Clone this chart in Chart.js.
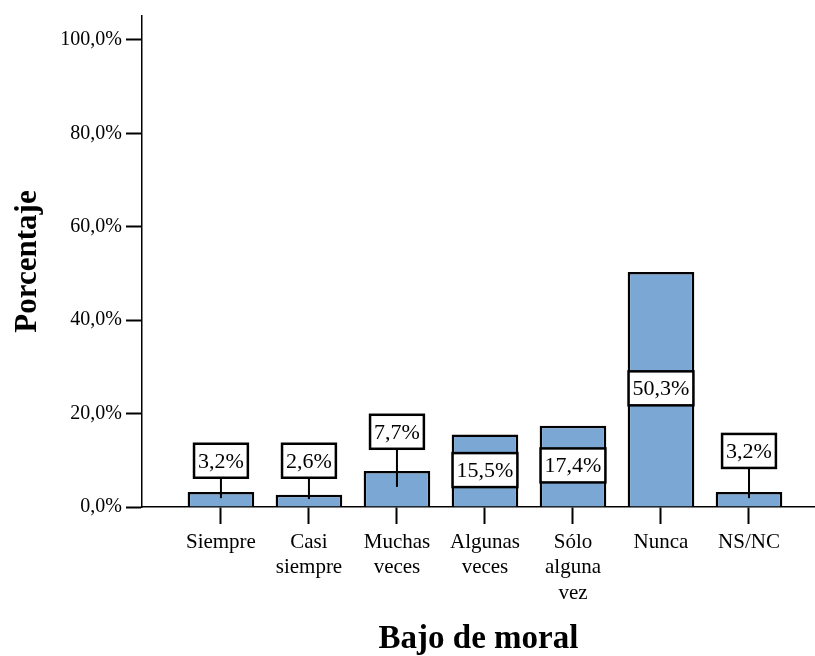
<!DOCTYPE html>
<html>
<head>
<meta charset="utf-8">
<script src="https://cdn.jsdelivr.net/npm/chart.js@4"></script>
<style>
  html, body { margin: 0; padding: 0; background: #ffffff; }
  #wrap { width: 815px; height: 656px; }
</style>
</head>
<body>
<div id="wrap"><canvas id="chart" width="815" height="656"></canvas></div>
<script>
// categorías y porcentajes
const categories = ['Siempre', ['Casi', 'siempre'], ['Muchas', 'veces'], ['Algunas', 'veces'], ['Sólo', 'alguna', 'vez'], 'Nunca', 'NS/NC'];
const percentages = [3.2, 2.6, 7.7, 15.5, 17.4, 50.3, 3.2];
const yTicks = [0, 20, 40, 60, 80, 100];

// dónde va cada etiqueta (en % del eje) y hasta dónde baja la línea guía
const labelAt = [9.9, 9.9, 16.1, 7.9, 8.9, 25.4, 12.0];
const leaderTo = [1.9, 1.7, 4.3, null, null, null, 1.9];

const serif = '"Liberation Serif", "DejaVu Serif", serif';

function fmt(v) {
  return v.toFixed(1).replace('.', ',') + '%';
}

// cajas con el valor de cada barra
const boxLabels = {
  id: 'boxLabels',
  afterDatasetsDraw(chart) {
    const ctx = chart.ctx;
    const yScale = chart.scales.y;
    const meta = chart.getDatasetMeta(0);
    ctx.save();
    ctx.font = '22px ' + serif;
    ctx.textAlign = 'center';
    ctx.textBaseline = 'middle';
    meta.data.forEach((bar, i) => {
      const text = fmt(percentages[i]);
      const w = ctx.measureText(text).width + 8;
      const h = 34;
      const cy = yScale.getPixelForValue(labelAt[i]);
      const x = bar.x;
      if (leaderTo[i] !== null) {
        ctx.beginPath();
        ctx.strokeStyle = '#000';
        ctx.lineWidth = 2;
        ctx.moveTo(x, cy + h / 2);
        ctx.lineTo(x, yScale.getPixelForValue(leaderTo[i]));
        ctx.stroke();
      }
      ctx.fillStyle = '#ffffff';
      ctx.fillRect(x - w / 2, cy - h / 2, w, h);
      ctx.strokeStyle = '#000';
      ctx.lineWidth = 2.5;
      ctx.strokeRect(x - w / 2, cy - h / 2, w, h);
      ctx.fillStyle = '#000';
      ctx.fillText(text, x, cy + 1);
    });
    ctx.restore();
  }
};

const ctx = document.getElementById('chart').getContext('2d');
new Chart(ctx, {
  type: 'bar',
  data: {
    datasets: [{
      data: percentages.map((v, i) => ({ x: i, y: v })),
      backgroundColor: '#7ba7d4',
      borderColor: '#000000',
      borderWidth: 2.5,
      categoryPercentage: 1,
      barPercentage: 0.757,
    }]
  },
  options: {
    responsive: false,
    animation: false,
    layout: { padding: { top: 13, left: 0, right: 0, bottom: 0 } },
    plugins: {
      legend: { display: false },
      tooltip: { enabled: false },
    },
    scales: {
      x: {
        type: 'linear',
        offset: false,
        min: -0.897,
        max: 6.75,
        afterFit: (s) => { s.height = 149; },
        afterBuildTicks: (s) => { s.ticks = categories.map((_, i) => ({ value: i })); },
        ticks: {
          color: '#000',
          font: { family: serif, size: 21, lineHeight: 1.2 },
          padding: 6,
          maxRotation: 0,
          minRotation: 0,
          autoSkip: false,
          callback: (value) => categories[value],
        },
        grid: {
          offset: false,
          drawOnChartArea: false,
          drawTicks: true,
          tickLength: 17,
          tickWidth: 2,
          tickColor: '#000',
        },
        border: { display: true, color: '#000', width: 1.5 },
        title: {
          display: true,
          text: 'Bajo de moral',
          color: '#000',
          font: { family: serif, size: 33, weight: 'bold', lineHeight: 1 },
          padding: { top: 0, bottom: 0 },
        },
      },
      y: {
        min: 0,
        max: 105.1,
        afterFit: (s) => { s.width = 142; },
        afterBuildTicks: (s) => { s.ticks = yTicks.map(v => ({ value: v })); },
        ticks: {
          color: '#000',
          font: { family: serif, size: 20 },
          padding: 4,
          callback: (value) => fmt(value),
        },
        grid: {
          drawOnChartArea: false,
          drawTicks: true,
          tickLength: 16,
          tickWidth: 2,
          tickColor: '#000',
        },
        border: { display: true, color: '#000', width: 1.5 },
        title: {
          display: true,
          text: 'Porcentaje',
          color: '#000',
          font: { family: serif, size: 31, weight: 'bold', lineHeight: 1 },
          padding: { top: 12, bottom: 0 },
        },
      },
    },
  },
  plugins: [boxLabels],
});
</script>
</body>
</html>
